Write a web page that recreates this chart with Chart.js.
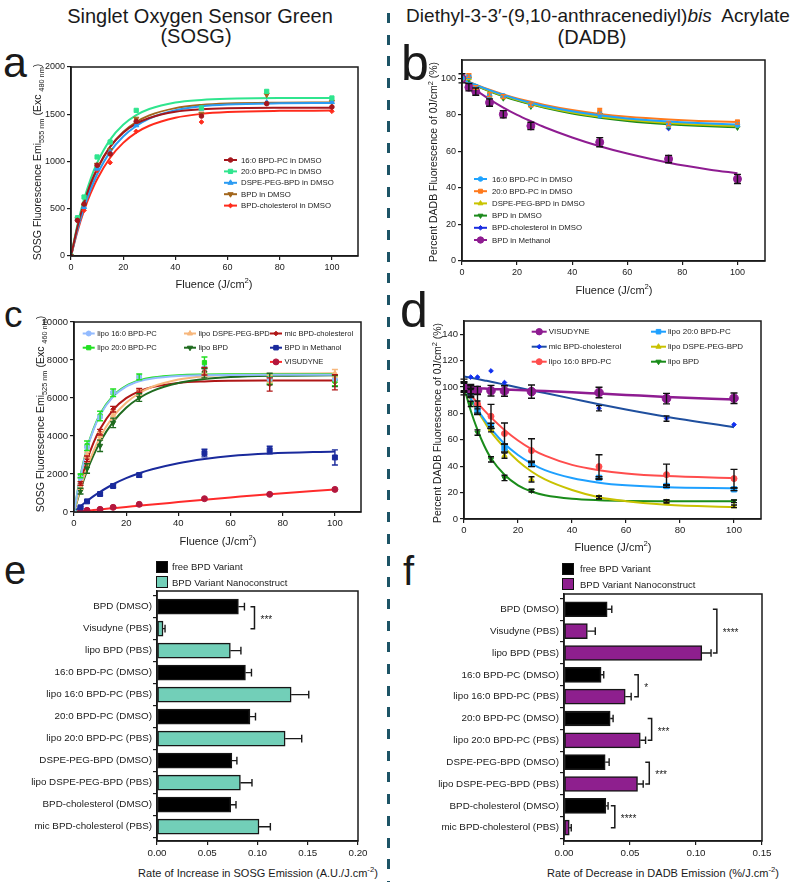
<!DOCTYPE html>
<html><head><meta charset="utf-8">
<script src="https://cdn.jsdelivr.net/npm/chart.js@4.4.0/dist/chart.umd.min.js"></script>
<style>
html,body{margin:0;padding:0;background:#fff;}
body{width:800px;height:882px;position:relative;overflow:hidden;font-family:"Liberation Sans",Arial,Helvetica,sans-serif;color:#1a1a1a;}
.ttl{position:absolute;white-space:nowrap;transform:translateX(-50%);font-size:20px;line-height:20px;}
.ytitle{position:absolute;white-space:nowrap;transform:translate(-50%,-50%) rotate(-90deg);font-size:10.5px;line-height:12px;}
.xtitle{position:absolute;white-space:nowrap;transform:translate(-50%,-50%);font-size:11px;line-height:12px;}
.letter{position:absolute;line-height:1;}
canvas{position:absolute;}
sub,sup{font-size:70%;line-height:0;}
.sq{position:absolute;width:10px;height:10px;border:1px solid #111;}
.lg{position:absolute;font-size:9.5px;white-space:nowrap;transform:translateY(-50%);}
.divider{position:absolute;left:386.5px;top:13px;width:3px;height:869px;background:repeating-linear-gradient(to bottom,#1d5466 0px,#1d5466 10px,transparent 10px,transparent 21.7px);}
</style></head>
<body>
<div class="ttl" style="left:200px;top:6px;">Singlet Oxygen Sensor Green</div>
<div class="ttl" style="left:196px;top:26px;">(SOSG)</div>
<div class="ttl" style="left:598px;top:6px;font-size:19px;">Diethyl-3-3′-(9,10-anthracenediyl)<i>bis</i>&nbsp; Acrylate</div>
<div class="ttl" style="left:592px;top:27px;">(DADB)</div>
<div class="divider"></div>

<div class="letter" style="left:3px;top:41px;font-size:43px;">a</div>
<div class="letter" style="left:401px;top:38px;font-size:50px;">b</div>
<div class="letter" style="left:4px;top:296px;font-size:37px;">c</div>
<div class="letter" style="left:400px;top:285px;font-size:50px;">d</div>
<div class="letter" style="left:4px;top:550px;font-size:40px;">e</div>
<div class="letter" style="left:403px;top:551px;font-size:40px;">f</div>

<canvas id="ca"></canvas>
<canvas id="cb"></canvas>
<canvas id="cc"></canvas>
<canvas id="cd"></canvas>
<canvas id="ce"></canvas>
<canvas id="cf"></canvas>

<div class="ytitle" style="left:37px;top:162px;">SOSG Fluorescence Emi<sub>555 nm</sub> (Exc <sub>480 nm</sub>)</div>
<div class="ytitle" style="left:433px;top:162px;">Percent DADB Fluorescence of 0J/cm<sup>2</sup> (%)</div>
<div class="ytitle" style="left:40px;top:414px;">SOSG Fluorescence Emi<sub>525 nm</sub> (Exc <sub>460 nm</sub>)</div>
<div class="ytitle" style="left:437px;top:423px;">Percent DADB Fluorescence of 0J/cm<sup>2</sup> (%)</div>

<div class="xtitle" style="left:214px;top:284px;">Fluence (J/cm<sup>2</sup>)</div>
<div class="xtitle" style="left:614px;top:290px;">Fluence (J/cm<sup>2</sup>)</div>
<div class="xtitle" style="left:218px;top:541px;">Fluence (J/cm<sup>2</sup>)</div>
<div class="xtitle" style="left:613px;top:547px;">Fluence (J/cm<sup>2</sup>)</div>
<div class="xtitle" style="left:258px;top:873px;">Rate of Increase in SOSG Emission (A.U./J.cm<sup>-2</sup>)</div>
<div class="xtitle" style="left:663px;top:873px;">Rate of Decrease in DADB Emission (%/J.cm<sup>-2</sup>)</div>

<div class="sq" style="left:156px;top:561px;background:#000;"></div>
<div class="lg" style="left:172px;top:566px;">free BPD Variant</div>
<div class="sq" style="left:156px;top:576px;background:#72cfb8;"></div>
<div class="lg" style="left:172px;top:581.5px;">BPD Variant Nanoconstruct</div>
<div class="sq" style="left:562px;top:563px;background:#000;"></div>
<div class="lg" style="left:580px;top:568px;">free BPD Variant</div>
<div class="sq" style="left:562px;top:578px;background:#8e1f8e;"></div>
<div class="lg" style="left:580px;top:583.5px;">BPD Variant Nanoconstruct</div>

<script>
// ---------------- DATA ----------------
const FLUENCE = [0, 2.5, 5, 10, 15, 25, 50, 75, 100];
const FLUENCE_TICKS = [0, 20, 40, 60, 80, 100];

// Panel a (SOSG, free variants in DMSO)
const A_LABELS = ['16:0 BPD-PC in DMSO', '20:0 BPD-PC in DMSO', 'DSPE-PEG-BPD in DMSO', 'BPD in DMSO', 'BPD-cholesterol in DMSO'];
const A_PC16 = [0, 377, 550, 960, 1080, 1425, 1481, 1612, 1577];
const A_PC20 = [0, 405, 624, 1048, 1206, 1541, 1566, 1742, 1672];
const A_DSPE = [0, 395, 518, 924, 1100, 1383, 1560, 1625, 1630];
const A_BPD  = [0, 390, 530, 966, 1120, 1453, 1506, 1707, 1630];
const A_CHOL = [0, 377, 483, 906, 988, 1319, 1418, 1612, 1531];
const A_FIT_X = [0, 2.5, 5, 7.5, 10, 15, 20, 25, 30, 40, 50, 60, 80, 100];
const A_FIT_PC16 = [0, 313, 564, 765, 925, 1157, 1305, 1400, 1461, 1526, 1552, 1563, 1569, 1570];
const A_FIT_PC20 = [0, 334, 600, 815, 985, 1232, 1389, 1491, 1556, 1625, 1652, 1664, 1671, 1672];
const A_FIT_DSPE = [0, 280, 512, 704, 862, 1102, 1265, 1376, 1455, 1542, 1584, 1603, 1616, 1620];
const A_FIT_BPD  = [0, 303, 549, 751, 913, 1154, 1313, 1418, 1488, 1565, 1599, 1614, 1623, 1625];
const A_FIT_CHOL = [0, 263, 482, 662, 813, 1040, 1197, 1305, 1378, 1463, 1504, 1523, 1536, 1539];
const A_Y_TICKS = [0, 500, 1000, 1500, 2000];

// Panel b (DADB, free variants)
const B_LABELS = ['16:0 BPD-PC in DMSO', '20:0 BPD-PC in DMSO', 'DSPE-PEG-BPD in DMSO', 'BPD in DMSO', 'BPD-cholesterol in DMSO', 'BPD in Methanol'];
const B_PC16 = [100, 101, 95.5, 90.5, 90.3, 85.5, 80, 74.5, 74.5];
const B_PC20 = [100, 101.5, 95, 91, 90, 85.5, 82, 75, 76];
const B_DSPE = [100, 100, 95, 90, 89.5, 85, 80.5, 74, 74];
const B_BPD  = [100, 99.5, 94.5, 89.5, 89, 84.5, 80, 73.5, 73];
const B_CHOL = [100, 100.5, 95, 89.5, 89.5, 85, 80.5, 72.5, 73.5];
const B_MEOH = [100, 95.1, 92.7, 86.7, 80.3, 73.9, 65, 55.8, 44.9];
const B_MEOH_ERR = [2.5, 2, 2, 2, 2, 2, 2.5, 2, 2.5];
const B_SMALL_ERR = [0, 1, 1, 1, 1, 1, 1.5, 1, 1];
const B_FIT_X = [0, 5, 10, 15, 20, 25, 30, 40, 50, 60, 75, 90, 100];
const B_FIT_PC16 = [99.5, 96.4, 93.5, 90.9, 88.6, 86.6, 84.8, 81.9, 79.7, 78, 76.3, 75.2, 74.7];
const B_FIT_PC20 = [99.5, 96.5, 93.7, 91.2, 89, 87.1, 85.4, 82.6, 80.5, 79, 77.5, 76.5, 76.1];
const B_FIT_DSPE = [99.5, 96.2, 93.2, 90.5, 88.2, 86.1, 84.3, 81.3, 79, 77.3, 75.5, 74.4, 73.9];
const B_FIT_BPD  = [99.5, 96, 92.9, 90.2, 87.8, 85.7, 83.8, 80.7, 78.4, 76.6, 74.8, 73.7, 73.2];
const B_FIT_CHOL = [99.5, 96.2, 93.2, 90.5, 88.1, 86, 84.2, 81.2, 78.9, 77.2, 75.3, 74.2, 73.7];
const B_FIT_MEOH = [99, 93.5, 88.5, 84, 80, 76.5, 73.2, 67.6, 62.8, 58.8, 53.8, 50, 48];
const B_Y_TICKS = [0, 20, 40, 60, 80, 100];

// Panel c (SOSG, nanoconstructs)
const C_LABELS = ['lipo 16:0 BPD-PC', 'lipo 20:0 BPD-PC', 'lipo DSPE-PEG-BPD', 'lipo BPD', 'mic BPD-cholesterol', 'BPD in Methanol', 'VISUDYNE'];
const C_L16  = [0, 1800, 3400, 5000, 6300, 7100, 7600, 7000, 7000];
const C_L20  = [0, 1900, 3485, 5050, 6270, 7110, 7860, 7020, 6900];
const C_DSPE = [0, 1300, 3000, 4000, 5100, 6300, 7300, 7000, 7300];
const C_LBPD = [0, 1100, 2290, 3485, 4690, 6025, 7300, 7000, 6900];
const C_MIC  = [0, 1500, 2800, 4200, 5410, 6400, 7410, 6710, 6830];
const C_MEOH = [0, 245, 560, 946, 1366, 1944, 3100, 3257, 2872];
const C_VIS  = [0, 30, 90, 140, 245, 403, 700, 928, 1190];
const C_L20_ERR  = [0, 100, 250, 250, 200, 150, 300, 250, 250];
const C_DSPE_ERR = [0, 100, 150, 200, 200, 150, 250, 200, 200];
const C_LBPD_ERR = [0, 150, 250, 300, 250, 200, 250, 300, 300];
const C_MIC_ERR  = [0, 100, 150, 150, 150, 100, 200, 350, 400];
const C_MEOH_ERR = [0, 50, 60, 80, 80, 100, 200, 200, 400];
const C_FIT_X = [0, 2.5, 5, 7.5, 10, 15, 20, 25, 30, 40, 50, 60, 75, 100];
const C_FIT_L16  = [0, 1880, 3300, 4330, 5100, 6070, 6600, 6880, 7030, 7160, 7200, 7215, 7220, 7220];
const C_FIT_L20  = [0, 1933, 3348, 4385, 5153, 6120, 6643, 6924, 7074, 7199, 7235, 7246, 7250, 7250];
const C_FIT_DSPE = [0, 1287, 2350, 3220, 3940, 5020, 5750, 6250, 6590, 6970, 7150, 7230, 7280, 7300];
const C_FIT_LBPD = [0, 1180, 2170, 2995, 3690, 4745, 5490, 6000, 6365, 6790, 7000, 7100, 7167, 7195];
const C_FIT_MIC  = [0, 1531, 2720, 3650, 4370, 5380, 5990, 6350, 6575, 6795, 6873, 6903, 6916, 6920];
const C_FIT_MEOH = [0, 306, 580, 835, 1060, 1460, 1780, 2040, 2250, 2570, 2790, 2950, 3080, 3190];
const C_FIT_VIS  = [0, 35, 70, 100, 135, 200, 265, 330, 395, 520, 645, 765, 940, 1190];
const C_Y_TICKS = [0, 2000, 4000, 6000, 8000, 10000];

// Panel d (DADB, nanoconstructs)
const D_LABELS = ['VISUDYNE', 'mic BPD-cholesterol', 'lipo 16:0 BPD-PC', 'lipo 20:0 BPD-PC', 'lipo DSPE-PEG-BPD', 'lipo BPD'];
const D_VIS  = [100, 98, 97.5, 97.2, 97, 96.5, 95.8, 91.2, 91.5];
const D_MIC  = [100, 107.5, 107.5, 112.2, 103.4, 97, 83.9, 76.1, 71.5];
const D_L16  = [100, 97, 87.2, 77.8, 64.7, 51.8, 39.7, 33.6, 30.6];
const D_L20  = [100, 96, 82.1, 70.5, 53.8, 41.7, 31.1, 25, 22.5];
const D_DSPE = [100, 96, 86.4, 68, 48, 30, 16.4, 13, 9.6];
const D_LBPD = [100, 87.2, 65.5, 45.2, 31.1, 21.5, 16.2, 13.6, 13.4];
const D_VIS_ERR  = [4, 3, 3, 4, 4, 5, 4, 4, 4];
const D_MIC_ERR  = [0, 0, 0, 0, 0, 0, 2, 2, 0];
const D_L16_ERR  = [6, 5, 7, 9, 8, 9, 9, 8, 7];
const D_L20_ERR  = [3, 3, 3, 2, 3, 2, 1, 1, 1];
const D_DSPE_ERR = [3, 2, 3, 2, 2, 2, 1, 1, 1];
const D_LBPD_ERR = [3, 2, 2, 2, 2, 1, 1, 1, 1];
const D_FIT_X = [0, 2.5, 5, 7.5, 10, 15, 20, 25, 30, 40, 50, 60, 75, 100];
const D_FIT_VIS  = [99.5, 99.2, 99, 98.8, 98.5, 98.1, 97.7, 97.3, 96.9, 96, 95, 94, 92.5, 90.5];
const D_FIT_MIC  = [108, 107, 106, 105, 104, 101.8, 99.6, 97.5, 95.4, 91.2, 87, 83, 77.5, 69.5];
const D_FIT_L16  = [100, 94, 88, 82.3, 77, 67.5, 59.5, 53, 48, 41, 37, 34.5, 32.5, 31];
const D_FIT_L20  = [100, 91.2, 83, 75.5, 68.5, 57, 48.5, 42, 37, 31, 27.5, 25.5, 24, 23.3];
const D_FIT_DSPE = [100, 90.5, 82, 73.8, 66, 54, 44, 36, 30, 22, 16.5, 13.5, 10.8, 9];
const D_FIT_LBPD = [100, 82, 67.5, 55.5, 46, 33.5, 25.5, 20.8, 18, 15.3, 14.2, 13.7, 13.5, 13.4];
const D_Y_TICKS = [0, 20, 40, 60, 80, 100, 120, 140];

// Panels e & f (rates)
const RATE_CATEGORIES = ['BPD (DMSO)', 'Visudyne (PBS)', 'lipo BPD (PBS)', '16:0 BPD-PC (DMSO)', 'lipo 16:0 BPD-PC (PBS)', '20:0 BPD-PC (DMSO)', 'lipo 20:0 BPD-PC (PBS)', 'DSPE-PEG-BPD (DMSO)', 'lipo DSPE-PEG-BPD (PBS)', 'BPD-cholesterol (DMSO)', 'mic BPD-cholesterol (PBS)'];
const RATE_GROUP = ['free', 'nano', 'nano', 'free', 'nano', 'free', 'nano', 'free', 'nano', 'free', 'nano'];
const E_VALUES = [0.081, 0.006, 0.073, 0.088, 0.1335, 0.0925, 0.1275, 0.0745, 0.083, 0.0733, 0.1015];
const E_ERR    = [0.006, 0.002, 0.0105, 0.006, 0.0175, 0.0055, 0.0165, 0.005, 0.0115, 0.0053, 0.0113];
const E_X_TICKS = [0, 0.05, 0.10, 0.15, 0.20];
const E_SIG = [{from: 0, to: 1, x: 0.097, label: '***'}];
const F_VALUES = [0.0327, 0.0177, 0.1044, 0.0281, 0.0464, 0.035, 0.0578, 0.0312, 0.0557, 0.0317, 0.004];
const F_ERR    = [0.0035, 0.006, 0.007, 0.002, 0.0045, 0.0022, 0.004, 0.003, 0.0043, 0.0017, 0.0015];
const F_X_TICKS = [0, 0.05, 0.10, 0.15];
const F_SIG = [
  {from: 0, to: 2, x: 0.1158, label: '****'},
  {from: 3, to: 4, x: 0.0562, label: '*'},
  {from: 5, to: 6, x: 0.0664, label: '***'},
  {from: 7, to: 8, x: 0.0646, label: '***'},
  {from: 9, to: 10, x: 0.0385, label: '****'}
];

// ---------------- RENDERING ----------------
const FONT = '"Liberation Sans", Arial, Helvetica, sans-serif';
const INK = '#1a1a1a';
Chart.defaults.font.family = FONT;

function pts(xs, ys) { return xs.map((x, i) => ({x: x, y: ys[i]})); }

const framePlugin = {
  id: 'frame',
  afterDraw(chart) {
    const {ctx, chartArea: a} = chart;
    ctx.save(); ctx.strokeStyle = INK; ctx.lineWidth = 1.5;
    ctx.strokeRect(a.left, a.top, a.right - a.left, a.bottom - a.top);
    ctx.restore();
  }
};

const errorBars = {
  id: 'errorBars',
  afterDatasetsDraw(chart) {
    const ctx = chart.ctx, ys = chart.scales.y;
    chart.data.datasets.forEach((ds, i) => {
      if (!ds.errors) return;
      const meta = chart.getDatasetMeta(i);
      ctx.save();
      ctx.strokeStyle = ds.errColor; ctx.lineWidth = 1.4;
      meta.data.forEach((pt, j) => {
        const e = ds.errors[j]; if (!e) return;
        const v = ds.data[j].y, x = pt.x;
        const y1 = ys.getPixelForValue(v + e), y2 = ys.getPixelForValue(v - e);
        const c = ds.errCap || 3.5;
        ctx.beginPath();
        ctx.moveTo(x, y1); ctx.lineTo(x, y2);
        ctx.moveTo(x - c, y1); ctx.lineTo(x + c, y1);
        ctx.moveTo(x - c, y2); ctx.lineTo(x + c, y2);
        ctx.stroke();
      });
      ctx.restore();
    });
  }
};

const insideLegend = {
  id: 'insideLegend',
  afterDraw(chart, args, o) {
    if (!o || !o.items) return;
    const ctx = chart.ctx;
    ctx.save();
    ctx.font = o.fs + 'px ' + FONT; ctx.textBaseline = 'middle'; ctx.textAlign = 'left';
    o.items.forEach(it => {
      const x = o.cols[it.col] - o.ox, y = o.y0 + it.row * o.rowH - o.oy;
      ctx.strokeStyle = it.color; ctx.lineWidth = 2;
      ctx.beginPath(); ctx.moveTo(x, y); ctx.lineTo(x + o.len, y); ctx.stroke();
      ctx.fillStyle = it.mcolor || it.color; ctx.strokeStyle = it.mcolor || it.color; ctx.lineWidth = 1;
      Chart.helpers.drawPoint(ctx, {pointStyle: it.style, rotation: it.rot || 0, radius: Math.min(it.r, 3.2), borderWidth: 1}, x + o.len / 2, y);
      ctx.fillStyle = INK;
      ctx.fillText(it.label, x + o.len + o.gap, y + 0.5);
    });
    ctx.restore();
  }
};

const barErrors = {
  id: 'barErrors',
  afterDatasetsDraw(chart) {
    const ctx = chart.ctx, xs = chart.scales.x;
    chart.data.datasets.forEach((ds, i) => {
      if (!ds.errors) return;
      const meta = chart.getDatasetMeta(i);
      ctx.save(); ctx.strokeStyle = INK; ctx.lineWidth = 1.4;
      meta.data.forEach((bar, j) => {
        const v = ds.data[j].x, e = ds.errors[j];
        const x1 = xs.getPixelForValue(v), x2 = xs.getPixelForValue(v + e), y = bar.y;
        ctx.beginPath();
        ctx.moveTo(x1, y); ctx.lineTo(x2, y);
        ctx.moveTo(x2, y - 3.8); ctx.lineTo(x2, y + 3.8);
        ctx.stroke();
      });
      ctx.restore();
    });
  }
};

const brackets = {
  id: 'brackets',
  afterDraw(chart, args, o) {
    if (!o || !o.items) return;
    const {ctx} = chart, xs = chart.scales.x, ys = chart.scales.y;
    ctx.save(); ctx.strokeStyle = INK; ctx.fillStyle = INK; ctx.lineWidth = 1.5;
    ctx.font = '10px ' + FONT; ctx.textBaseline = 'middle'; ctx.textAlign = 'left';
    o.items.forEach(b => {
      const px = xs.getPixelForValue(b.x), y1 = ys.getPixelForValue(b.from), y2 = ys.getPixelForValue(b.to);
      ctx.beginPath();
      ctx.moveTo(px - 4, y1); ctx.lineTo(px, y1); ctx.lineTo(px, y2); ctx.lineTo(px - 4, y2);
      ctx.stroke();
      ctx.fillText(b.label, px + 6, (y1 + y2) / 2 + 2.5);
    });
    ctx.restore();
  }
};

function axisBase(fs) {
  return {
    grid: {display: true, drawOnChartArea: false, drawTicks: true, tickLength: 4, color: INK, lineWidth: 1.2},
    border: {display: true, color: INK, width: 1.5},
    ticks: {font: {size: fs, family: FONT}, color: INK, padding: 2, autoSkip: false, maxRotation: 0}
  };
}

function linePanel(id, box, cfg) {
  const YW = 44, XH = 22, PT = 12, PR = 16;
  const cv = document.getElementById(id);
  const left = box.L - YW, top = box.T - PT;
  cv.width = box.R - box.L + YW + PR; cv.height = box.B - box.T + PT + XH;
  cv.style.left = left + 'px'; cv.style.top = top + 'px';
  const pointSets = [], curveSets = [];
  cfg.series.forEach(s => {
    pointSets.push({
      data: pts(FLUENCE, s.pts), showLine: false,
      pointStyle: s.style, pointRotation: s.rot || 0, pointRadius: s.r,
      backgroundColor: s.mcolor || s.color, borderColor: s.mcolor || s.color, pointBorderWidth: 1,
      errors: s.err, errColor: s.errColor || s.color, errCap: s.cap
    });
    curveSets.push({
      data: pts(cfg.fitX, s.fit), showLine: true, pointRadius: 0,
      borderColor: s.color, borderWidth: s.lw || 2, cubicInterpolationMode: 'monotone', fill: false
    });
  });
  const xa = axisBase(cfg.fs), ya = axisBase(cfg.fs);
  Object.assign(xa, {type: 'linear', min: 0, max: 110,
    afterBuildTicks: s => { s.ticks = FLUENCE_TICKS.map(v => ({value: v})); },
    afterFit: s => { s.height = XH; }});
  xa.ticks.callback = v => String(v);
  Object.assign(ya, {type: 'linear', min: 0, max: cfg.yMax,
    afterBuildTicks: s => { s.ticks = cfg.yTicks.map(v => ({value: v})); },
    afterFit: s => { s.width = YW; }});
  ya.ticks.callback = v => String(v);
  const lg = Object.assign({}, cfg.legend, {ox: left, oy: top});
  lg.items = cfg.legendItems.map(li => Object.assign({}, cfg.series[li.i], {label: cfg.labels[li.i], col: li.col, row: li.row}));
  return new Chart(cv, {
    type: 'scatter',
    data: {datasets: pointSets.concat(curveSets)},
    options: {
      responsive: false, animation: false, devicePixelRatio: 1,
      layout: {padding: {top: PT, right: PR, left: 0, bottom: 0}},
      scales: {x: xa, y: ya},
      plugins: {legend: {display: false}, tooltip: {enabled: false}, insideLegend: lg}
    },
    plugins: [errorBars, framePlugin, insideLegend]
  });
}

function barPanel(id, box, cfg) {
  const YW = 150, XH = 22, PT = 10, PR = 16;
  const cv = document.getElementById(id);
  const left = box.L - YW, top = box.T - PT;
  cv.width = box.R - box.L + YW + PR; cv.height = box.B - box.T + PT + XH;
  cv.style.left = left + 'px'; cv.style.top = top + 'px';
  const xa = axisBase(9.8), ya = axisBase(9.8);
  Object.assign(xa, {type: 'linear', min: 0, max: cfg.xMax,
    afterBuildTicks: s => { s.ticks = cfg.xTicks.map(v => ({value: v})); },
    afterFit: s => { s.height = XH; }});
  xa.ticks.callback = v => Number(v).toFixed(2);
  Object.assign(ya, {type: 'linear', reverse: true, min: cfg.yMin, max: cfg.yMaxIdx, offset: false,
    afterBuildTicks: s => { s.ticks = RATE_CATEGORIES.map((c, i) => ({value: i})); },
    afterFit: s => { s.width = YW; }});
  ya.ticks.callback = v => RATE_CATEGORIES[v];
  ya.ticks.padding = 1;
  return new Chart(cv, {
    type: 'bar',
    data: {datasets: [{
      data: cfg.values.map((v, i) => ({x: v, y: i})),
      backgroundColor: RATE_GROUP.map(g => g === 'free' ? '#000000' : cfg.nanoColor),
      borderColor: '#161616', borderWidth: 1.5, borderSkipped: false,
      barThickness: 15, errors: cfg.err
    }]},
    options: {
      indexAxis: 'y', responsive: false, animation: false, devicePixelRatio: 1,
      layout: {padding: {top: PT, right: PR, left: 0, bottom: 0}},
      scales: {x: xa, y: ya},
      plugins: {legend: {display: false}, tooltip: {enabled: false}, brackets: {items: cfg.sig}}
    },
    plugins: [barErrors, framePlugin, brackets]
  });
}

// Panel a
linePanel('ca', {L: 71, T: 67, R: 358, B: 256}, {
  fs: 9, yMax: 2000, yTicks: A_Y_TICKS, fitX: A_FIT_X, labels: A_LABELS,
  series: [
    {pts: A_PC16, fit: A_FIT_PC16, color: '#a5161c', style: 'circle', r: 2.3},
    {pts: A_PC20, fit: A_FIT_PC20, color: '#2fe58e', style: 'rect', r: 3},
    {pts: A_DSPE, fit: A_FIT_DSPE, color: '#2b9bf2', style: 'triangle', r: 3},
    {pts: A_BPD,  fit: A_FIT_BPD,  color: '#a2661c', style: 'triangle', rot: 180, r: 3},
    {pts: A_CHOL, fit: A_FIT_CHOL, color: '#ff2b1c', style: 'rectRot', r: 2.3}
  ],
  legend: {cols: [224], y0: 160, rowH: 11.4, len: 13, gap: 4, fs: 7.8},
  legendItems: [{i: 0, col: 0, row: 0}, {i: 1, col: 0, row: 1}, {i: 2, col: 0, row: 2}, {i: 3, col: 0, row: 3}, {i: 4, col: 0, row: 4}]
});

// Panel b
linePanel('cb', {L: 462, T: 60, R: 765, B: 261}, {
  fs: 9, yMax: 110, yTicks: B_Y_TICKS, fitX: B_FIT_X, labels: B_LABELS,
  series: [
    {pts: B_PC16, fit: B_FIT_PC16, color: '#1ea3ff', style: 'circle', r: 2.3, err: B_SMALL_ERR, cap: 2},
    {pts: B_PC20, fit: B_FIT_PC20, color: '#ff7a1c', style: 'rect', r: 2.8, err: B_SMALL_ERR, cap: 2.5},
    {pts: B_DSPE, fit: B_FIT_DSPE, color: '#c9c400', style: 'triangle', r: 2.8},
    {pts: B_BPD,  fit: B_FIT_BPD,  color: '#1c8a1c', style: 'triangle', rot: 180, r: 2.8},
    {pts: B_CHOL, fit: B_FIT_CHOL, color: '#1b2ee0', style: 'rectRot', r: 2.3},
    {pts: B_MEOH, fit: B_FIT_MEOH, color: '#8e1c91', style: 'circle', r: 4, err: B_MEOH_ERR, errColor: '#111', cap: 3.5}
  ],
  legend: {cols: [474], y0: 179, rowH: 12.2, len: 13, gap: 5, fs: 7.8},
  legendItems: [{i: 0, col: 0, row: 0}, {i: 1, col: 0, row: 1}, {i: 2, col: 0, row: 2}, {i: 3, col: 0, row: 3}, {i: 4, col: 0, row: 4}, {i: 5, col: 0, row: 5}]
});

// Panel c
linePanel('cc', {L: 74, T: 322, R: 361, B: 512}, {
  fs: 9.5, yMax: 10000, yTicks: C_Y_TICKS, fitX: C_FIT_X, labels: C_LABELS,
  series: [
    {pts: C_L16,  fit: C_FIT_L16,  color: '#93bbff', style: 'circle', r: 2.5},
    {pts: C_L20,  fit: C_FIT_L20,  color: '#22e022', style: 'rect', r: 3, err: C_L20_ERR, cap: 3},
    {pts: C_DSPE, fit: C_FIT_DSPE, color: '#f7b77c', style: 'triangle', r: 3, err: C_DSPE_ERR, cap: 3},
    {pts: C_LBPD, fit: C_FIT_LBPD, color: '#1f6b1f', style: 'triangle', rot: 180, r: 3, err: C_LBPD_ERR, cap: 3},
    {pts: C_MIC,  fit: C_FIT_MIC,  color: '#b01616', style: 'rectRot', r: 2.3, err: C_MIC_ERR, cap: 3},
    {pts: C_MEOH, fit: C_FIT_MEOH, color: '#1a2a9c', style: 'rect', r: 3.5, err: C_MEOH_ERR, cap: 3},
    {pts: C_VIS,  fit: C_FIT_VIS,  color: '#ff2b2b', mcolor: '#b3173d', style: 'circle', r: 3}
  ],
  legend: {cols: [82.7, 184, 270], y0: 333.5, rowH: 14.2, len: 12, gap: 2.5, fs: 7.6},
  legendItems: [{i: 0, col: 0, row: 0}, {i: 1, col: 0, row: 1}, {i: 2, col: 1, row: 0}, {i: 3, col: 1, row: 1}, {i: 4, col: 2, row: 0}, {i: 5, col: 2, row: 1}, {i: 6, col: 2, row: 2}]
});

// Panel d
linePanel('cd', {L: 464, T: 321, R: 761, B: 519}, {
  fs: 9.5, yMax: 150, yTicks: D_Y_TICKS, fitX: D_FIT_X, labels: D_LABELS,
  series: [
    {pts: D_VIS,  fit: D_FIT_VIS,  color: '#8e1c91', style: 'circle', r: 4.3, err: D_VIS_ERR, errColor: '#111', cap: 3.5, lw: 2.5},
    {pts: D_MIC,  fit: D_FIT_MIC,  color: '#1f4f9e', mcolor: '#1030f0', style: 'rectRot', r: 2.3, err: D_MIC_ERR, errColor: '#111', cap: 3},
    {pts: D_L16,  fit: D_FIT_L16,  color: '#ff4d4d', style: 'circle', r: 3, err: D_L16_ERR, errColor: '#111', cap: 3.5},
    {pts: D_L20,  fit: D_FIT_L20,  color: '#1ea0ff', style: 'rect', r: 3.8, err: D_L20_ERR, errColor: '#111', cap: 3.5},
    {pts: D_DSPE, fit: D_FIT_DSPE, color: '#c9c200', style: 'triangle', r: 3, err: D_DSPE_ERR, errColor: '#111', cap: 3},
    {pts: D_LBPD, fit: D_FIT_LBPD, color: '#1a8c1a', style: 'triangle', rot: 180, r: 3, err: D_LBPD_ERR, errColor: '#111', cap: 3}
  ],
  legend: {cols: [531.7, 651], y0: 331.7, rowH: 15, len: 15, gap: 2, fs: 8},
  legendItems: [{i: 0, col: 0, row: 0}, {i: 1, col: 0, row: 1}, {i: 2, col: 0, row: 2}, {i: 3, col: 1, row: 0}, {i: 4, col: 1, row: 1}, {i: 5, col: 1, row: 2}]
});

// Panel e
barPanel('ce', {L: 157, T: 591, R: 358, B: 841}, {
  xMax: 0.2, xTicks: E_X_TICKS, yMin: -0.71, yMaxIdx: 10.65,
  values: E_VALUES, err: E_ERR, nanoColor: '#72cfb8', sig: E_SIG
});

// Panel f
barPanel('cf', {L: 564, T: 594, R: 762, B: 841}, {
  xMax: 0.15, xTicks: F_X_TICKS, yMin: -0.7, yMaxIdx: 10.61,
  values: F_VALUES, err: F_ERR, nanoColor: '#8e1f8e', sig: F_SIG
});
</script>
</body></html>
